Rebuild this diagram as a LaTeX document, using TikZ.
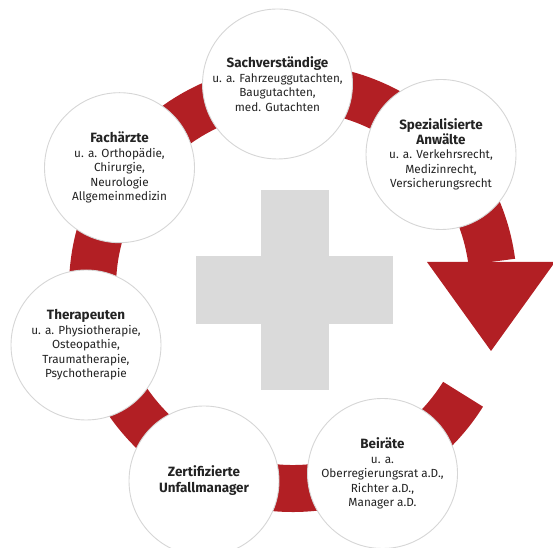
\documentclass[tikz,border=0pt]{standalone}
\usepackage{fontspec}
\setmainfont{Fira Sans}
\usetikzlibrary{calc}
\definecolor{ringred}{RGB}{178,31,36}
\definecolor{crossgray}{RGB}{218,218,218}
\definecolor{rimgray}{RGB}{214,214,214}
\definecolor{txtgray}{RGB}{35,35,35}
\newcommand{\headline}[1]{{\fontsize{13.5}{16}\selectfont\bfseries #1}}
\tikzset{
  station/.style={circle, draw=rimgray, line width=0.9bp, fill=white,
    minimum size=150bp, inner sep=0pt, align=center, text=txtgray,
    font=\fontsize{11.8}{14.5}\selectfont},
}
\begin{document}
\begin{tikzpicture}[x=1bp,y=1bp]
\useasboundingbox (0,0) rectangle (553,548);
% ring with arrow
\coordinate (M) at (293,260);
\fill[ringred] ($(M)+(7.5:224bp)$) arc[start angle=7.5, end angle=328, radius=224bp]
  -- ($(M)+(328:177bp)$) arc[start angle=328, end angle=7.5, radius=177bp] -- cycle;
\coordinate (headL) at (427,286);
\coordinate (headR) at (555,286);
\coordinate (tip) at (491,197);
\fill[ringred] (headL) -- (headR) -- (tip) -- cycle;
% cross
\fill[crossgray] (261,158) rectangle (329,357.5);
\fill[crossgray] (196,224) rectangle (393,291.6);
% circles
\node[station] (sach) at (277.5,464) {\headline{Sachverständige}\\u. a. Fahrzeuggutachten,\\Baugutachten,\\med. Gutachten};
\node[station] (anwalt) at (441,393.5) {\headline{Spezialisierte}\\\headline{Anwälte}\\u. a. Verkehrsrecht,\\Medizinrecht,\\Versicherungsrecht};
\node[station] (arzt) at (119.5,380.3) {\headline{Fachärzte}\\u. a. Orthopädie,\\Chirurgie,\\Neurologie\\Allgemeinmedizin};
\node[station] (thera) at (86,203) {\headline{Therapeuten}\\u. a. Physiotherapie,\\Osteopathie,\\Traumatherapie,\\Psychotherapie};
\node[station] (unfall) at (204,67) {\headline{Zertifizierte}\\[1.5bp]\headline{Unfallmanager}};
\node[station] (beirat) at (382.5,74.5) {\headline{Beiräte}\\u. a.\\Oberregierungsrat a.D.,\\Richter a.D.,\\Manager a.D.};
\end{tikzpicture}
\end{document}
